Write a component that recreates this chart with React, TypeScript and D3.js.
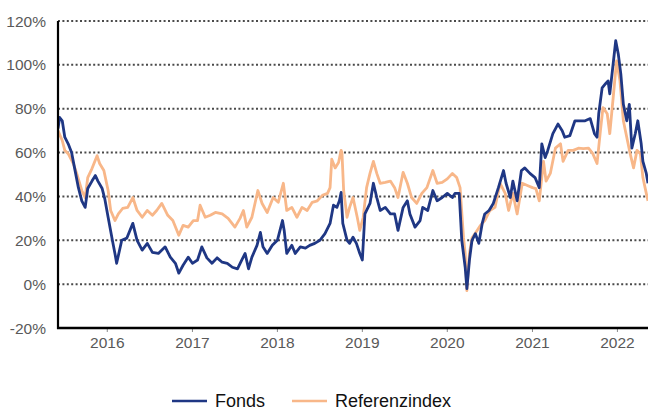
import React from "react";
import * as d3 from "d3";

// decimal years + performance in %
const fondsYears = [
  2015.42, 2015.44, 2015.47, 2015.5, 2015.54, 2015.58, 2015.62, 2015.66, 2015.7, 2015.74, 2015.77, 2015.82,
  2015.86, 2015.89, 2015.94, 2015.97, 2016.01, 2016.06, 2016.09, 2016.11, 2016.17, 2016.23, 2016.3, 2016.35,
  2016.41, 2016.47, 2016.53, 2016.6, 2016.68, 2016.74, 2016.8, 2016.84, 2016.89, 2016.95, 2017.0, 2017.06,
  2017.11, 2017.17, 2017.23, 2017.29, 2017.35, 2017.41, 2017.47, 2017.53, 2017.58, 2017.62, 2017.66, 2017.7,
  2017.76, 2017.8, 2017.83, 2017.88, 2017.94, 2018.0, 2018.06, 2018.08, 2018.11, 2018.17, 2018.21, 2018.27,
  2018.33, 2018.38, 2018.44, 2018.5, 2018.56, 2018.62, 2018.66, 2018.7, 2018.73, 2018.75, 2018.77, 2018.82,
  2018.85, 2018.89, 2018.93, 2018.97, 2019.0, 2019.03, 2019.09, 2019.13, 2019.17, 2019.21, 2019.27, 2019.33,
  2019.38, 2019.42, 2019.48, 2019.53, 2019.56, 2019.62, 2019.68, 2019.71, 2019.77, 2019.83, 2019.88, 2019.94,
  2020.0, 2020.06, 2020.09, 2020.14, 2020.17, 2020.21, 2020.23, 2020.26, 2020.29, 2020.33, 2020.37, 2020.41,
  2020.44, 2020.49, 2020.54, 2020.6, 2020.66, 2020.69, 2020.74, 2020.77, 2020.82, 2020.87, 2020.91, 2020.97,
  2021.03, 2021.08, 2021.11, 2021.15, 2021.18, 2021.24, 2021.3, 2021.35, 2021.38, 2021.44, 2021.5, 2021.56,
  2021.62, 2021.68, 2021.73, 2021.76, 2021.78, 2021.82, 2021.86, 2021.89, 2021.91, 2021.95, 2021.98, 2022.01,
  2022.04, 2022.07, 2022.11, 2022.14, 2022.17, 2022.21, 2022.24, 2022.28, 2022.3, 2022.34, 2022.36,
];
const fondsValues = [
  71, 76, 74.5, 67, 64, 60, 52, 44, 38, 35, 43.6, 47,
  49.5, 47, 43.6, 39, 30.5, 20, 14, 9.5, 20, 21, 27.7, 20,
  15.5, 18.6, 14.5, 14, 17, 12.3, 9.5, 5, 8.6, 12.3, 9.5, 11,
  17, 12, 9.5, 12, 10, 9.5, 7.7, 7, 11, 14, 7, 12.3,
  17.7, 23.6, 17, 14, 17.7, 20, 29, 24.5, 14, 17.7, 14, 17,
  16.4, 17.7, 18.6, 20, 23, 27.7, 36, 35, 38, 41.8, 27.7, 20,
  18.6, 21.4, 18.6, 14, 11, 32, 36.8, 46, 39.5, 33.6, 35, 32,
  32, 24.5, 35, 38, 32, 26, 29, 35, 33.6, 42.7, 38, 39.5,
  41.4, 39.5, 41.4, 41.4, 20, 7.7, -2, 11, 20, 23, 18.6, 27.7,
  32, 33.6, 36.8, 44, 51.8, 46, 39.5, 47, 38, 51.8, 53, 50.5,
  48.6, 44, 64, 57.7, 61, 68.6, 73, 70, 67, 67.7, 74.5, 74.5,
  74.5, 75.5, 68.6, 67, 77.7, 89.5, 91.4, 92.7, 86.8, 100.5, 111, 105,
  95.9, 82, 74.5, 82, 62, 68.6, 74.5, 64, 56, 50.5, 46,
];

const refYears = [
  2015.42, 2015.47, 2015.5, 2015.54, 2015.6, 2015.64, 2015.7, 2015.74, 2015.77, 2015.82, 2015.88, 2015.91,
  2015.96, 2016.01, 2016.04, 2016.09, 2016.13, 2016.18, 2016.24, 2016.3, 2016.35, 2016.41, 2016.47, 2016.53,
  2016.58, 2016.64, 2016.71, 2016.77, 2016.84, 2016.89, 2016.95, 2017.01, 2017.06, 2017.09, 2017.15, 2017.21,
  2017.27, 2017.35, 2017.42, 2017.5, 2017.56, 2017.6, 2017.64, 2017.7, 2017.77, 2017.82, 2017.88, 2017.95,
  2018.01, 2018.07, 2018.11, 2018.17, 2018.23, 2018.29, 2018.35, 2018.41, 2018.47, 2018.53, 2018.59, 2018.62,
  2018.64, 2018.68, 2018.72, 2018.75, 2018.76, 2018.78, 2018.82, 2018.85, 2018.89, 2018.94, 2018.97, 2019.01,
  2019.05, 2019.09, 2019.13, 2019.17, 2019.21, 2019.27, 2019.33, 2019.38, 2019.42, 2019.48, 2019.53, 2019.58,
  2019.64, 2019.7, 2019.76, 2019.83, 2019.88, 2019.94, 2020.0, 2020.06, 2020.11, 2020.15, 2020.19, 2020.21,
  2020.23, 2020.26, 2020.29, 2020.35, 2020.39, 2020.44, 2020.5, 2020.56, 2020.62, 2020.68, 2020.72, 2020.77,
  2020.82, 2020.88, 2020.94, 2021.0, 2021.04, 2021.08, 2021.13, 2021.16, 2021.21, 2021.27, 2021.33, 2021.36,
  2021.42, 2021.48, 2021.54, 2021.6, 2021.66, 2021.71, 2021.76, 2021.8, 2021.83, 2021.88, 2021.91, 2021.95,
  2021.99, 2022.03, 2022.07, 2022.11, 2022.15, 2022.19, 2022.23, 2022.27, 2022.3, 2022.34, 2022.36,
];
const refValues = [
  70, 65.5, 61, 59.5, 55, 50.5, 42.7, 39.5, 48.6, 52.7, 58.6, 55,
  51.8, 42.7, 33.6, 29, 32, 34.5, 35, 39.5, 33.6, 30.5, 33.6, 31.4,
  33.6, 36.8, 31.4, 29, 22.3, 26.8, 26, 29, 29, 36, 30.5, 31.4,
  32.7, 32, 30, 26, 30, 33.6, 26, 30.5, 42.7, 36.8, 32.7, 39.5,
  37.3, 46, 33.6, 35, 30.5, 35, 33.6, 37.3, 38, 40.5, 41.4, 44,
  57, 53, 55.5, 61, 60, 42.7, 30.5, 35, 39.5, 30.5, 24.5, 30.5,
  44, 50.5, 56, 50.5, 46, 46.4, 47, 44, 39.5, 51, 46, 39.5,
  36.8, 41.4, 44, 51.8, 46, 46.4, 48, 50.5, 48.6, 44, 21.4, 14,
  -3, 14, 21, 24.5, 26.8, 29, 33.6, 35, 46, 41.4, 33.6, 41.4,
  32, 46, 45, 44, 43.6, 38, 56, 47, 50.5, 62, 64, 56,
  61, 61, 62, 61.8, 62, 59.5, 55, 70, 80.5, 77.7, 68.6, 85,
  101.8, 92.7, 74.5, 67, 59.5, 53, 61, 59.5, 48.6, 41.4, 38,
];

const yTicks = [-20, 0, 20, 40, 60, 80, 100, 120];
const xTickYears = [2016, 2017, 2018, 2019, 2020, 2021, 2022];
const seriesNames = ["Fonds", "Referenzindex"];
const seriesColors = ["#1f3784", "#f8b789"];

const toDate = (y: number) => {
  const year = Math.floor(y);
  const start = new Date(year, 0, 1).getTime();
  const end = new Date(year + 1, 0, 1).getTime();
  return new Date(start + (y - year) * (end - start));
};

const W = 648;
const H = 410;
const margin = { left: 58, top: 21, bottom: 328 };
const font = "'Liberation Sans', Arial, sans-serif";

export default function App() {
  const x = d3
    .scaleTime()
    .domain([toDate(2015.42), toDate(2022.36)])
    .range([margin.left, W]);
  const y = d3.scaleLinear().domain([-20, 120]).range([margin.bottom, margin.top]);

  const line = d3
    .line<[number, number]>()
    .x((d) => x(toDate(d[0])))
    .y((d) => y(d[1]));

  const fonds = fondsYears.map((t, i) => [t, fondsValues[i]] as [number, number]);
  const ref = refYears.map((t, i) => [t, refValues[i]] as [number, number]);

  return (
    <svg
      width={W}
      height={H}
      style={{ position: "absolute", left: 0, top: 0, background: "#fff" }}
    >
      {yTicks.map((v) => (
        <g key={v}>
          {v > -20 && (
            <line
              x1={margin.left}
              x2={W}
              y1={y(v)}
              y2={y(v)}
              stroke="#4a4a4a"
              strokeWidth={2}
              strokeDasharray="2 2.4"
            />
          )}
          <text
            x={46}
            y={y(v)}
            dy="0.36em"
            textAnchor="end"
            fontFamily={font}
            fontSize={15.5}
            fill="#595959"
          >
            {v}%
          </text>
        </g>
      ))}

      {xTickYears.map((yr) => {
        const px = x(new Date(yr, 0, 1));
        return (
          <g key={yr}>
            <line x1={px} x2={px} y1={margin.bottom} y2={margin.bottom + 4} stroke="#8c8c8c" strokeWidth={1} />
            <text
              x={px}
              y={348}
              textAnchor="middle"
              fontFamily={font}
              fontSize={15.5}
              fill="#595959"
            >
              {yr}
            </text>
          </g>
        );
      })}

      <g clipPath="url(#plotclip)">
        <clipPath id="plotclip">
          <rect x={margin.left} y={0} width={W - margin.left} height={margin.bottom} />
        </clipPath>
        <path d={line(ref) ?? ""} fill="none" stroke={seriesColors[1]} strokeWidth={2.8} strokeLinejoin="round" />
        <path d={line(fonds) ?? ""} fill="none" stroke={seriesColors[0]} strokeWidth={2.8} strokeLinejoin="round" />
      </g>

      <line x1={margin.left} x2={margin.left} y1={margin.top} y2={margin.bottom + 1} stroke="#000" strokeWidth={2.2} />
      <line x1={margin.left - 1} x2={W} y1={margin.bottom} y2={margin.bottom} stroke="#000" strokeWidth={2.4} />

      {seriesNames.map((name, i) => {
        const lx = i === 0 ? 172 : 292;
        return (
          <g key={name}>
            <line x1={lx} x2={lx + 35} y1={401} y2={401} stroke={seriesColors[i]} strokeWidth={2.6} />
            <text x={lx + 43} y={407} fontFamily={font} fontSize={18} fill="#111">
              {name}
            </text>
          </g>
        );
      })}
    </svg>
  );
}
